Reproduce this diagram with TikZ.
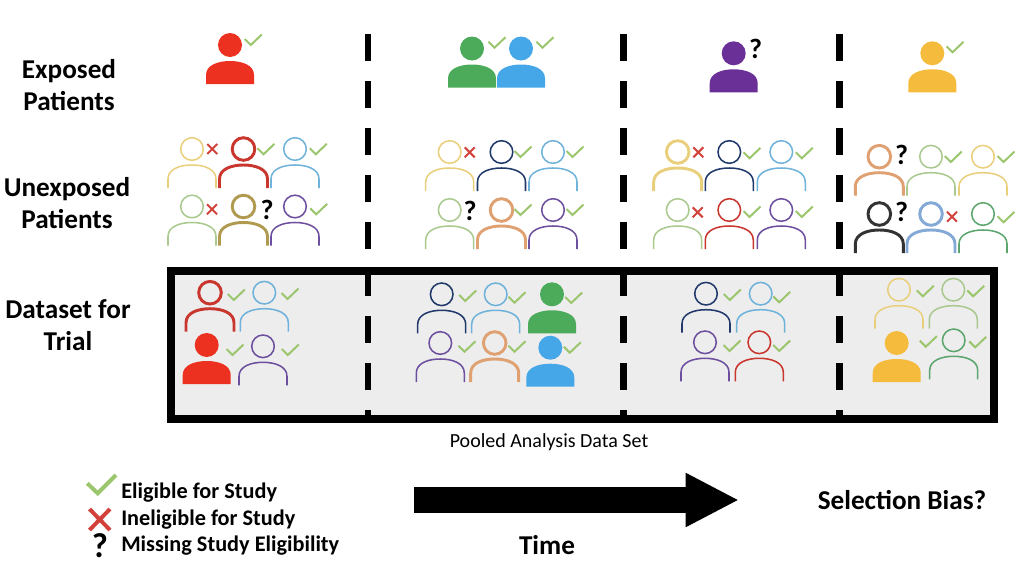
\documentclass[tikz,border=0pt]{standalone}
\usepackage{fontspec}
\setmainfont{Carlito}
\usetikzlibrary{arrows.meta}

\definecolor{cgreen}{HTML}{9CC66E}
\definecolor{cred}{HTML}{D2423A}
\definecolor{pred}{HTML}{EC3120}
\definecolor{pgreen}{HTML}{4CAB5A}
\definecolor{pblue}{HTML}{45A6E8}
\definecolor{ppurple}{HTML}{6A3098}
\definecolor{pyellow}{HTML}{F5BB3C}
\definecolor{oyellow}{HTML}{E9CF7C}
\definecolor{ored}{HTML}{C9362E}
\definecolor{oblue}{HTML}{6FB2DA}
\definecolor{olime}{HTML}{A9C98F}
\definecolor{ogold}{HTML}{B09A50}
\definecolor{opurple}{HTML}{6C4F9E}
\definecolor{onavy}{HTML}{20386A}
\definecolor{oorange}{HTML}{DFA172}
\definecolor{ogreen}{HTML}{5CA66D}
\definecolor{oblack}{HTML}{333333}
\definecolor{osteel}{HTML}{85A9D6}

\tikzset{
  bigtext/.style={font=\fontsize{20.4}{24}\selectfont\bfseries,align=center},
  legendtext/.style={font=\fontsize{16.7}{19}\selectfont\bfseries,anchor=west,inner sep=0pt},
  qmark/.style={font=\fontsize{21}{24}\selectfont\bfseries,inner sep=0pt},
  oneline/.style={line width=1.15pt},
  twoline/.style={line width=2.2pt},
  divider/.style={line width=5.2pt,dash pattern=on 20pt off 15.25pt}
}

% head centre at #1,#2
\newcommand{\bodypath}{(-24,39) -- (-24,30) .. controls (-24,20) and (-12,16) .. (0,16) .. controls (12,16) and (24,20) .. (24,30) -- (24,39)}
\newcommand{\fullpatient}[3]{
  \fill[#3,shift={(#1,#2)}] (0,0) circle[radius=12];
  \fill[#3,shift={(#1,#2)}] \bodypath -- cycle;
}
\newcommand{\openpatient}[4]{
  \draw[#3,#4,shift={(#1,#2)}] (0,0) circle[radius=11.3];
  \draw[#3,#4,shift={(#1,#2)}] \bodypath;
}
\newcommand{\okmark}[2]{\draw[cgreen,line width=1.5pt,shift={(#1,#2)}] (-8.5,-1) -- (-2.5,5) -- (8.5,-5.5);}
\newcommand{\nomark}[2]{\draw[cred,line width=1.5pt,shift={(#1,#2)}] (-5,-5) -- (5,5) (-5,5) -- (5,-5);}

\begin{document}
\begin{tikzpicture}[x=0.75pt,y=-0.75pt]
\useasboundingbox (0,0) rectangle (1024,568);

% trial box
\draw[line width=6pt,fill=black!7] (170.5,271.3) rectangle (993.7,418.5);

% time periods
\foreach \x in {368,623.5,839.5}
   \draw[divider] (\x,34) -- (\x,420);

% exposed
\foreach \x/\y/\c in {230/45/pred,472/48.5/pgreen,521/48.5/pblue,733.7/53.3/ppurple,932.3/53.3/pyellow}
   {\fullpatient{\x}{\y}{\c}}
\foreach \x/\y in {253.3/40,497/42.7,545/42.7,955/47.3}
   {\okmark{\x}{\y}}
\node[qmark] (qexposed) at (755.7,49.3) {?};

% unexposed
\foreach \x/\y/\c/\w in {192/149/oyellow/oneline,243.5/149/ored/twoline,295/149/oblue/oneline,
    192/206.5/olime/oneline,243.5/206.5/ogold/twoline,295/206.5/opurple/oneline,
    449.7/152/oyellow/oneline,501.5/152/onavy/oneline,553/152/oblue/oneline,
    449.7/210/olime/oneline,501.5/210/oorange/twoline,553/210/opurple/oneline,
    677.7/152/oyellow/twoline,729.3/152/onavy/oneline,781.3/152/oblue/oneline,
    677.7/210/olime/oneline,729.3/210/ored/oneline,781.3/210/opurple/oneline,
    879.3/156.7/oorange/twoline,931/156.7/olime/oneline,983/156.7/oyellow/oneline,
    879.3/214/oblack/twoline,931/214/osteel/twoline,983/214/ogreen/oneline}
   {\openpatient{\x}{\y}{\c}{\w}}
\foreach \x/\y in {266/149.3,318.3/149.3,318.7/209.3,
    523/152,575/152,523/210,575/210,
    752/153.3,804.3/153.3,752/212,804.3/212,
    953.3/157,1006/157,1006/217.3}
   {\okmark{\x}{\y}}
\foreach \x/\y in {212.3/149,212/209.3,469.7/152.3,698.3/152.3,697.7/212.3,952/216.7}
   {\nomark{\x}{\y}}
\node[qmark] (qunexpa) at (267,210) {?};
\node[qmark] (qunexpb) at (470,211) {?};
\node[qmark] (qunexpc) at (901.7,155) {?};
\node[qmark] (qunexpd) at (901.7,212) {?};

% dataset
\foreach \x/\y/\c in {206.7/345/pred,552/294.3/pgreen,550.3/347.7/pblue,896.7/343/pyellow}
   {\fullpatient{\x}{\y}{\c}}
\foreach \x/\y/\c/\w in {210/292.7/ored/twoline,264.3/292.7/oblue/oneline,263/346.3/opurple/oneline,
    441.7/294.3/onavy/oneline,495.7/294.3/oblue/oneline,440.3/343/opurple/oneline,494.7/343/oorange/twoline,
    706/293.7/onavy/oneline,760.7/293.7/oblue/oneline,705/342.3/opurple/oneline,759.3/342.3/ored/oneline,
    899/289.7/oyellow/oneline,953.3/289.7/olime/oneline,953.7/340.3/ogreen/oneline}
   {\openpatient{\x}{\y}{\c}{\w}}
\foreach \x/\y in {236.3/295,290/294,235/350,290.3/350,
    467.7/296,517/297.7,573.7/298,467/346.7,517/346.7,572.3/347.7,
    732.3/295,781.7/297.3,732/346,781.7/346,
    925.3/291.3,975.7/291.3,928.3/341.7,977.7/342.3}
   {\okmark{\x}{\y}}

% row labels
\node[bigtext] (lblexposed) at (69,85) {Exposed\\Patients};
\node[bigtext] (lblunexposed) at (67,203) {Unexposed\\Patients};
\node[bigtext] (lbldataset) at (68,325) {Dataset for\\Trial};
\node[font=\fontsize{15}{18}\selectfont] (lblpooled) at (549,442) {Pooled Analysis Data Set};

% legend
\draw[cgreen,line width=3pt] (87.3,483.3) -- (97.7,493.3) -- (116,475);
\draw[cred,line width=3pt] (89.5,509) -- (110,530) (89.5,530) -- (110,509);
\node[font=\fontsize{26}{28}\selectfont\bfseries,inner sep=0pt] (legq) at (100,546) {?};
\node[legendtext] (legok) at (121,493) {Eligible for Study};
\node[legendtext] (legno) at (121,520) {Ineligible for Study};
\node[legendtext] (legmiss) at (121,546) {Missing Study Eligibility};

% time
\coordinate (timestart) at (414,500);
\coordinate (timeend) at (739,500);
\draw[line width=19pt,-{Triangle[length=40pt,width=37.7pt]}] (timestart) -- (timeend);
\node[bigtext] (lbltime) at (547,545) {Time};
\node[bigtext] (lblbias) at (902,500) {Selection Bias?};
\end{tikzpicture}
\end{document}
